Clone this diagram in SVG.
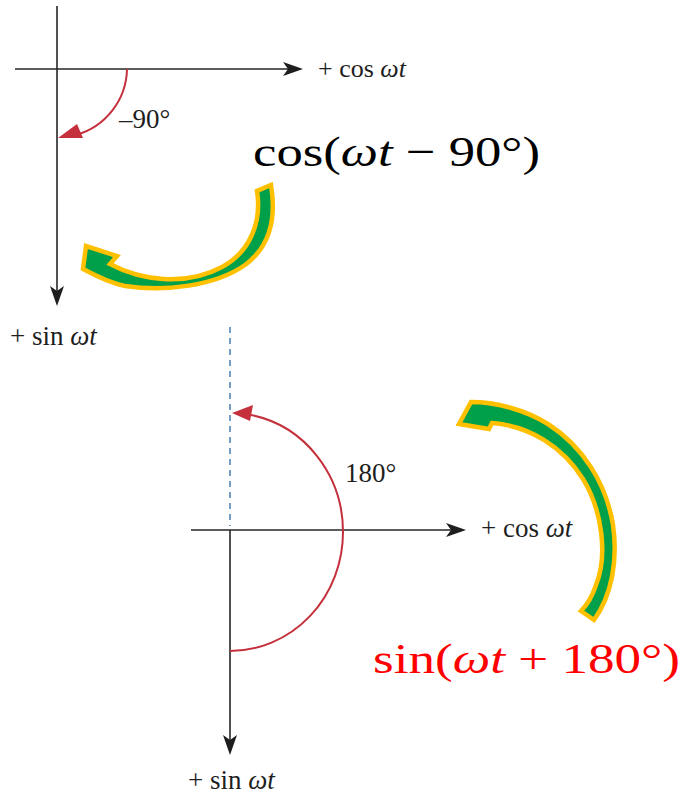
<svg xmlns="http://www.w3.org/2000/svg" width="683" height="796" viewBox="0 0 683 796">
<style>
.ax{stroke:#262626;stroke-width:1.6;fill:none}
.ah{fill:#1e1e1e}
.red{stroke:#c4313d;stroke-width:2;fill:none}
.redh{fill:#c4313d}
.lbl{font-family:"Liberation Serif",serif;font-size:27px;fill:#1e1e1e}
.it{font-style:italic}
.big{font-family:"Liberation Serif",serif;font-size:43px}
.garrow{fill:#00a04a;stroke:#ffc000;stroke-width:4.5;stroke-linejoin:miter;stroke-miterlimit:4}
</style>
<rect width="683" height="796" fill="#fff"/>
<g id="top-axes">
<line class="ax" x1="15" y1="69" x2="292" y2="69"/>
<polygon class="ah" points="303,69 283,62 288,69 283,76"/>
<line class="ax" x1="57" y1="6" x2="57" y2="296"/>
<polygon class="ah" points="57,306 50,286 57,291 64,286"/>
<text class="lbl" x="318" y="77" style="font-size:26px">+ cos <tspan class="it">ωt</tspan></text>
<text class="lbl" x="10" y="345">+ sin <tspan class="it">ωt</tspan></text>
</g>
<g id="top-angle">
<path class="red" d="M127,69 A70,70 0 0 1 76,135"/>
<polygon class="redh" points="58,138 77,124 83,138"/>
<text class="lbl" x="119" y="128">–90°</text>
</g>
<g id="bottom-axes">
<line x1="230" y1="327" x2="230" y2="526" stroke="#4a7db0" stroke-width="1.5" stroke-dasharray="6,5"/>
<line class="ax" x1="191" y1="530" x2="455" y2="530"/>
<polygon class="ah" points="466,530 446,523 451,530 446,537"/>
<line class="ax" x1="230" y1="530" x2="230" y2="745"/>
<polygon class="ah" points="230,755 223,735 230,740 237,735"/>
<text class="lbl" x="481" y="537">+ cos <tspan class="it">ωt</tspan></text>
<text class="lbl" x="188" y="789">+ sin <tspan class="it">ωt</tspan></text>
</g>
<g id="bottom-angle">
<path class="red" d="M230,651 A113,119 0 0 0 343,532 A113,119 0 0 0 251,415"/>
<polygon class="redh" points="232,413 253,405 250,421"/>
<text class="lbl" x="345" y="482">180°</text>
</g>
<g id="formula-cos">
<text class="big" x="253" y="166" fill="#000" textLength="287" lengthAdjust="spacingAndGlyphs">cos(<tspan class="it">ωt</tspan> − 90°)</text>
</g>
<g id="formula-sin">
<text class="big" x="373" y="673" fill="#ff0000" textLength="307" lengthAdjust="spacingAndGlyphs">sin(<tspan class="it">ωt</tspan> + 180°)</text>
</g>
<g id="connectors">
<path class="garrow" d="M271,185 C276,215 272,245 245,265 C215,286 165,292 125,286 C110,283 96,276 83,269 L86,246 L117,256 L110,264 C140,280 185,287 222,267 C250,252 262,222 257,191 Z"/>
<path class="garrow" d="M594,620 C612,595 618,560 613,525 C606,482 582,446 548,424 C525,410 497,402 471,402 L459,424 L489,429 L492,423 C530,426 563,447 583,479 C602,510 608,555 596,585 C592,597 587,605 581,611 Z"/>
</g>
</svg>
